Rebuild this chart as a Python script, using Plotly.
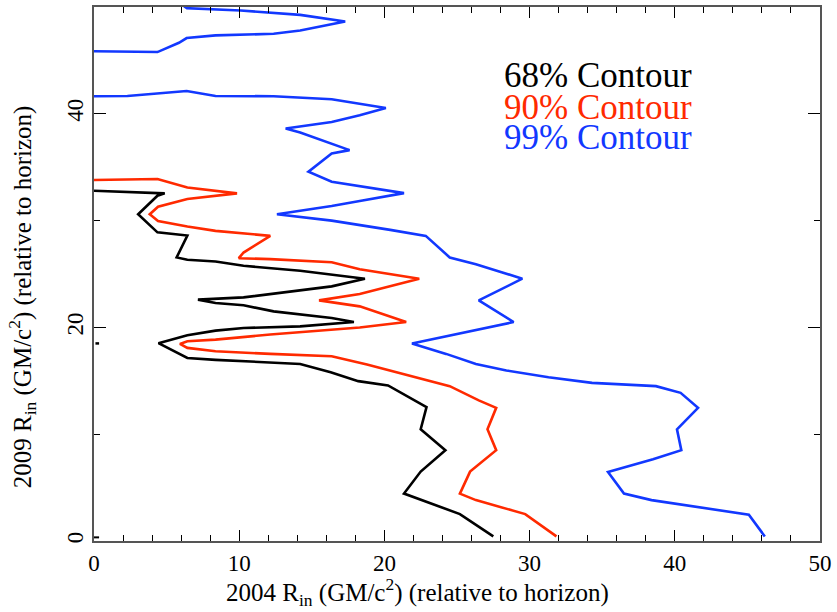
import plotly.graph_objects as go

# 68% contour
c68_x = [0, 4.87, 4.37, 3.04, 4.37, 6.43, 5.69, 6.43, 8.37, 10.3, 14.2, 18.66, 16.37, 12.14, 10.3, 7.16,
         8.37, 10.3, 12.37, 16.37, 17.9, 14.2, 10.3, 8.37, 6.43, 4.44, 6.43, 8.37, 10.3, 14.2, 16.3,
         18.2, 20.25, 22.9, 22.5, 24.2, 22.5, 21.35, 25.2, 27.5]
c68_y = [32.8, 32.55, 32.33, 30.59, 28.9, 28.6, 26.55, 26.33, 26.17, 25.77, 25.3, 24.56, 23.84, 23.12,
         22.81, 22.6, 22.28, 22.07, 21.5, 20.88, 20.5, 20.1, 19.94, 19.7, 19.26, 18.52, 17.14, 16.96,
         16.83, 16.58, 15.8, 14.97, 14.57, 12.54, 10.46, 8.5, 6.5, 4.44, 2.52, 0.43]

# 90% contour
c90_x = [0, 4.37, 6.43, 9.85, 6.43, 4.41, 3.84, 4.41, 6.43, 8.37, 12.14, 10.3, 9.97, 12.14, 16.37,
         18.3, 22.4, 18.3, 15.5, 18.3, 21.5, 18.3, 12.14, 8.37, 6.43, 5.92, 6.43, 8.37, 12.14, 16.37,
         18.8, 20.4, 24.5, 26.5, 27.7, 27.1, 27.7, 25.9, 25.2, 26.3, 29.7, 31.85]
c90_y = [33.8, 33.9, 33.1, 32.55, 32.03, 31.3, 30.59, 29.97, 29.44, 29.04, 28.57, 27.01, 26.48, 26.39,
         26.1, 25.45, 24.56, 23.12, 22.53, 21.97, 20.5, 19.99, 19.33, 18.86, 18.7, 18.45, 18.08, 17.77,
         17.52, 17.3, 16.53, 15.97, 14.5, 13.17, 12.47, 10.46, 8.5, 6.5, 4.44, 3.83, 2.52, 0.43]

# 99% contour (upper piece)
c99a_x = [0, 2.3, 4.37, 5.85, 6.38, 8.37, 12.37, 14.2, 17.3, 14.2, 10.1, 6.4, 6.2]
c99a_y = [45.85, 45.85, 45.78, 46.65, 47.09, 47.34, 47.49, 47.8, 48.65, 49.26, 49.67, 49.89, 50.08]

# 99% contour (main piece)
c99b_x = [0, 2.3, 6.38, 8.37, 12.37, 16.37, 20.1, 18.3, 16.37, 13.2, 14.2, 17.6, 16.37, 14.77, 16.37,
          21.35, 18.3, 16.37, 12.6, 16.37, 20.4, 22.85, 24.5, 26.3, 29.5, 26.5, 28.9, 21.9, 24.25,
          26.3, 28.4, 31.3, 34.3, 38.7, 40.4, 41.6, 40.15, 40.45, 38.5, 35.4, 36.5, 38.4, 45.1, 46.2]
c99b_y = [41.64, 41.67, 42.14, 41.67, 41.64, 41.36, 40.55, 39.87, 39.24, 38.62, 38.24, 36.6, 36.28,
          34.57, 33.64, 32.57, 31.84, 31.37, 30.59, 30.0, 29.13, 28.57, 26.55, 25.92, 24.56, 22.53,
          20.5, 18.49, 17.52, 16.58, 15.97, 15.34, 14.81, 14.5, 13.87, 12.47, 10.46, 8.5, 7.66, 6.47,
          4.44, 3.83, 2.46, 0.43]

# small stray marks near the left axis
stray1_x = [0.1, 0.35]
stray1_y = [18.5, 18.5]
stray2_x = [0, 0.35]
stray2_y = [0.34, 0.34]

legend_labels = ["68% Contour", "90% Contour", "99% Contour"]
x_title = "2004 R<sub>in</sub> (GM/c<sup>2</sup>) (relative to horizon)"
y_title = "2009 R<sub>in</sub> (GM/c<sup>2</sup>) (relative to horizon)"

BLACK = "#000000"
RED = "#ff2a00"
BLUE = "#1238ff"
FONT = "Times New Roman, Liberation Serif, Times, serif"

fig = go.Figure()
lw = 2.6
fig.add_trace(go.Scatter(x=c99a_x, y=c99a_y, mode="lines", line=dict(color=BLUE, width=lw)))
fig.add_trace(go.Scatter(x=c99b_x, y=c99b_y, mode="lines", line=dict(color=BLUE, width=lw)))
fig.add_trace(go.Scatter(x=c90_x, y=c90_y, mode="lines", line=dict(color=RED, width=lw)))
fig.add_trace(go.Scatter(x=c68_x, y=c68_y, mode="lines", line=dict(color=BLACK, width=lw)))
fig.add_trace(go.Scatter(x=stray1_x, y=stray1_y, mode="lines", line=dict(color=BLACK, width=2.5)))
fig.add_trace(go.Scatter(x=stray2_x, y=stray2_y, mode="lines", line=dict(color=BLACK, width=2)))

colors = [BLACK, RED, BLUE]
ys = [43.6, 40.6, 37.8]
for lab, col, yy in zip(legend_labels, colors, ys):
    fig.add_annotation(x=28.1, y=yy, xref="x", yref="y", text=lab, showarrow=False,
                       xanchor="left", yanchor="middle",
                       font=dict(family=FONT, size=35, color=col))

# axis titles placed as annotations to match the reference position
fig.add_annotation(x=0.445, y=-0.095, xref="paper", yref="paper", text=x_title, showarrow=False,
                   xanchor="center", yanchor="middle", font=dict(family=FONT, size=25, color="#000000"))
fig.add_annotation(x=-0.098, y=0.458, xref="paper", yref="paper", text=y_title, showarrow=False,
                   textangle=-90, xanchor="center", yanchor="middle",
                   font=dict(family=FONT, size=25, color="#000000"))

axis_common = dict(
    showgrid=False, zeroline=False, showline=True, linecolor="#555555", linewidth=2,
    mirror="allticks", ticks="inside", tickcolor="#000000", tickwidth=1.3,
    tickfont=dict(family=FONT, size=23, color="#000000"),
)

fig.update_xaxes(range=[0, 50], tick0=0, dtick=10, ticklen=11,
                 minor=dict(dtick=2, ticklen=6, ticks="inside", tickcolor="#000000", tickwidth=1.3, showgrid=False),
                 **axis_common)
fig.update_yaxes(range=[0, 50], tick0=0, dtick=20, ticklen=12, tickangle=-90,
                 minor=dict(dtick=10, ticklen=6, ticks="inside", tickcolor="#000000", tickwidth=1.3, showgrid=False),
                 **axis_common)

fig.update_layout(
    width=837, height=612, showlegend=False,
    plot_bgcolor="white", paper_bgcolor="white",
    font=dict(family=FONT),
    margin=dict(l=94, r=14, t=5, b=71),
)

fig.write_html("out.html")
